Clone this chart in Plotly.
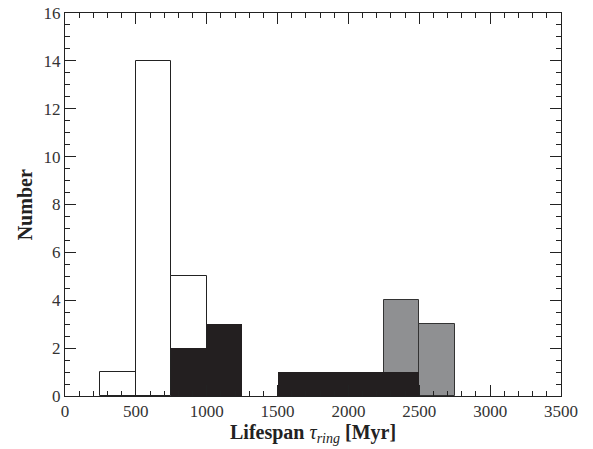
import plotly.graph_objects as go

bin_width = 250
white_left = [250, 500, 750]
white_counts = [1, 14, 5]
gray_left = [2250, 2500]
gray_counts = [4, 3]
black_left = [750, 1000, 1500, 1750, 2000, 2250]
black_counts = [2, 3, 1, 1, 1, 1]

def centers(lefts):
    return [l + bin_width / 2 for l in lefts]

fig = go.Figure()
fig.add_trace(go.Bar(x=centers(white_left), y=white_counts, width=bin_width,
                     marker=dict(color="white", line=dict(color="#222", width=1))))
fig.add_trace(go.Bar(x=centers(gray_left), y=gray_counts, width=bin_width,
                     marker=dict(color="#8f9092", line=dict(color="#333", width=1))))
fig.add_trace(go.Bar(x=centers(black_left), y=black_counts, width=bin_width,
                     marker=dict(color="#231f20", line=dict(color="#231f20", width=0))))

font_family = "Liberation Serif, DejaVu Serif, serif"
fig.update_layout(
    width=593, height=449,
    margin=dict(l=65, r=32, t=13, b=53),
    barmode="overlay", bargap=0,
    showlegend=False,
    plot_bgcolor="white", paper_bgcolor="white",
    font=dict(family=font_family, size=17, color="#333"),
    annotations=[
        dict(text="<b>Lifespan </b><i>τ<sub>ring</sub></i><b> [Myr]</b>",
             xref="paper", yref="paper", x=0.5, y=-0.097,
             xanchor="center", yanchor="middle", showarrow=False,
             font=dict(size=20, color="#222")),
        dict(text="<b>Number</b>", textangle=-90,
             xref="paper", yref="paper", x=-0.081, y=0.5,
             xanchor="center", yanchor="middle", showarrow=False,
             font=dict(size=20, color="#222")),
    ],
)
fig.update_xaxes(
    range=[0, 3500], tickvals=list(range(0, 3501, 500)), automargin=False,
    ticks="inside", ticklen=11, tickwidth=1, tickcolor="#222",
    minor=dict(dtick=100, ticks="inside", ticklen=5, tickcolor="#222"),
    showline=True, linecolor="#222", linewidth=1, mirror="ticks",
    showgrid=False, zeroline=False,
)
fig.update_yaxes(
    range=[0, 16], tickvals=list(range(0, 17, 2)), automargin=False,
    ticks="inside", ticklen=11, tickwidth=1, tickcolor="#222",
    minor=dict(dtick=0.5, ticks="inside", ticklen=5, tickcolor="#222"),
    showline=True, linecolor="#222", linewidth=1, mirror="ticks",
    showgrid=False, zeroline=False,
)
fig.write_html("out.html", config={"displayModeBar": False},
               post_script="document.body.style.margin='0';")
